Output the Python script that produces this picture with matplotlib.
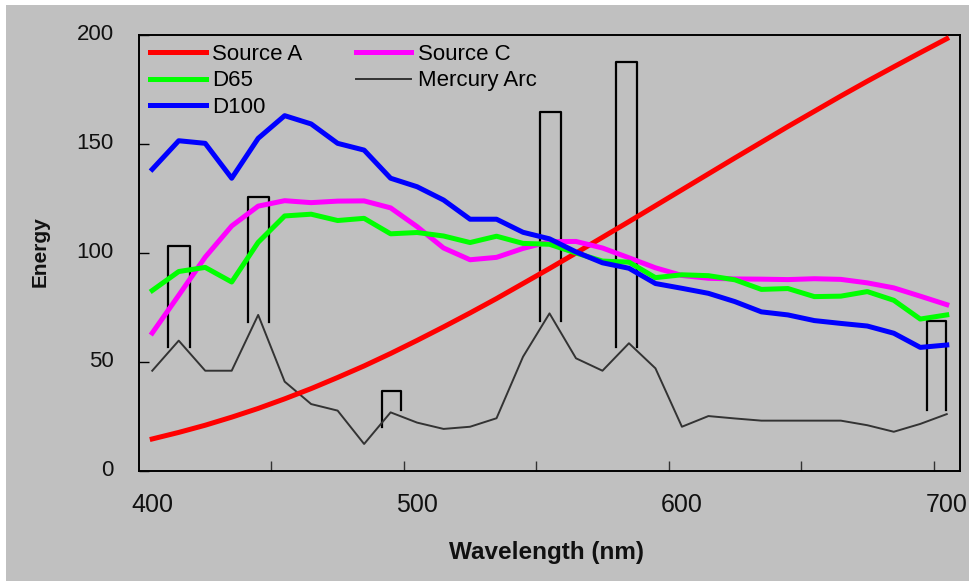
import matplotlib
matplotlib.use('Agg')
import matplotlib.pyplot as plt
from matplotlib.patches import Rectangle
from matplotlib.ticker import NullFormatter
from matplotlib.transforms import ScaledTranslation

plt.rcParams['font.family'] = ['Liberation Sans', 'DejaVu Sans']

# spectral power distributions, 400-700 nm every 10 nm
wavelength = list(range(400, 701, 10))

source_a = [14.7, 17.7, 21.0, 24.7, 28.7, 33.1, 37.8, 42.9, 48.2, 53.9, 59.9,
            66.1, 72.5, 79.1, 86.0, 92.9, 100.0, 107.2, 114.4, 121.7, 129.0,
            136.3, 143.6, 150.8, 158.0, 165.0, 172.0, 178.8, 185.4, 191.9, 198.3]

source_c = [63.3, 80.6, 98.1, 112.4, 121.5, 124.0, 123.1, 123.8, 123.9, 120.7, 112.1,
            102.3, 96.9, 98.0, 102.1, 105.2, 105.3, 102.3, 97.8, 93.2, 89.7,
            88.4, 88.1, 88.0, 87.8, 88.2, 87.9, 86.3, 84.0, 80.2, 76.3]

d65 = [82.8, 91.5, 93.4, 86.7, 104.9, 117.0, 117.8, 114.9, 115.9, 108.8, 109.4,
       107.8, 104.8, 107.7, 104.4, 104.0, 100.0, 96.3, 95.8, 88.7, 90.0,
       89.6, 87.7, 83.3, 83.7, 80.0, 80.2, 82.3, 78.3, 69.7, 71.6]

d100 = [138.4, 151.5, 150.3, 134.3, 152.6, 163.0, 159.2, 150.3, 147.2, 134.3, 130.4,
        124.3, 115.5, 115.5, 109.5, 106.5, 100.5, 95.5, 93.0, 86.0, 83.8,
        81.5, 77.7, 73.0, 71.6, 69.0, 67.7, 66.5, 63.2, 56.7, 57.8]

mercury = [46.0, 59.8, 46.0, 46.0, 71.6, 41.0, 30.7, 27.7, 12.4, 26.9, 22.2,
           19.3, 20.3, 24.2, 52.4, 72.3, 51.7, 46.0, 58.6, 47.1, 20.3,
           25.2, 24.1, 23.1, 23.1, 23.1, 23.1, 21.0, 18.0, 21.6, 26.1]

# mercury emission lines drawn as open bars
line_left = [405.9, 436.1, 486.6, 546.3, 575.0, 692.4]
line_right = [414.2, 443.9, 494.1, 554.4, 582.9, 699.9]
line_top = [103.3, 125.7, 36.8, 164.8, 187.5, 69.0]
line_bottom_left = [57.0, 68.5, 20.3, 68.9, 56.7, 28.0]
line_bottom_right = [57.0, 68.5, 28.0, 68.9, 56.7, 28.0]

GRAY = '#c0c0c0'

fig = plt.figure(figsize=(9.7, 5.81), dpi=100, facecolor='white')
fig.patches.append(Rectangle((6 / 970, 0), 1, 1 - 5 / 581, transform=fig.transFigure,
                             facecolor=GRAY, edgecolor='none', zorder=-10))
ax = fig.add_axes([139 / 970, 110 / 581, 821 / 970, 436 / 581])
ax.set_facecolor(GRAY)

for l, r, t, bl, br in zip(line_left, line_right, line_top, line_bottom_left, line_bottom_right):
    ax.plot([l, l, r, r], [bl, t, t, br], color='black', lw=1.6, zorder=2)

h_hg, = ax.plot(wavelength, mercury, color='#333333', lw=1.4, zorder=2, label='Mercury Arc')
h_a, = ax.plot(wavelength, source_a, color='#ff0000', lw=3.6, zorder=3, label='Source A')
h_c, = ax.plot(wavelength, source_c, color='#ff00ff', lw=3.6, zorder=3, label='Source C')
h_d65, = ax.plot(wavelength, d65, color='#00ff00', lw=3.6, zorder=3, label='D65')
h_d100, = ax.plot(wavelength, d100, color='#0000ff', lw=3.6, zorder=4, label='D100')

ax.set_xlim(395, 705)
ax.set_ylim(0, 200)

for s in ax.spines.values():
    s.set_linewidth(1.4)
    s.set_color('black')

ax.set_xticks(range(445, 700, 50))
ax.xaxis.set_major_formatter(NullFormatter())
ax.set_xticks([400, 500, 600, 700], minor=True)
ax.set_xticklabels(['400', '500', '600', '700'], minor=True)
ax.tick_params(axis='x', which='major', direction='in', length=7, width=1, color='#333333')
ax.tick_params(axis='x', which='minor', length=0, pad=16, labelsize=18)

ax.set_yticks([0, 50, 100, 150, 200])
ax.tick_params(axis='y', direction='in', length=7, width=1, pad=18, labelsize=16)
for lab in ax.get_yticklabels():
    lab.set_transform(lab.get_transform() + ScaledTranslation(0, 3 / 100, fig.dpi_scale_trans))
for lab in ax.get_xticklabels(minor=True) + ax.get_yticklabels():
    lab.set_color('#111111')

fig.text(40 / 970, 1 - 252 / 581, 'Energy', rotation=90, ha='center', va='center',
         fontsize=15, fontweight='bold', color='#111111')
fig.text(547 / 970, 1 - 553 / 581, 'Wavelength (nm)', ha='center', va='center',
         fontsize=17.5, fontweight='bold', color='#111111')

ax.legend(handles=[h_a, h_d65, h_d100, h_c, h_hg], ncol=2, loc='upper left',
          bbox_to_anchor=(150 / 970, 1 - 44 / 581), bbox_transform=fig.transFigure,
          frameon=False, fontsize=16, handlelength=2.5, handletextpad=0.3,
          columnspacing=2.4, labelspacing=0.24, borderpad=0, borderaxespad=0)

fig.savefig('out.png', dpi=100, facecolor=fig.get_facecolor())
